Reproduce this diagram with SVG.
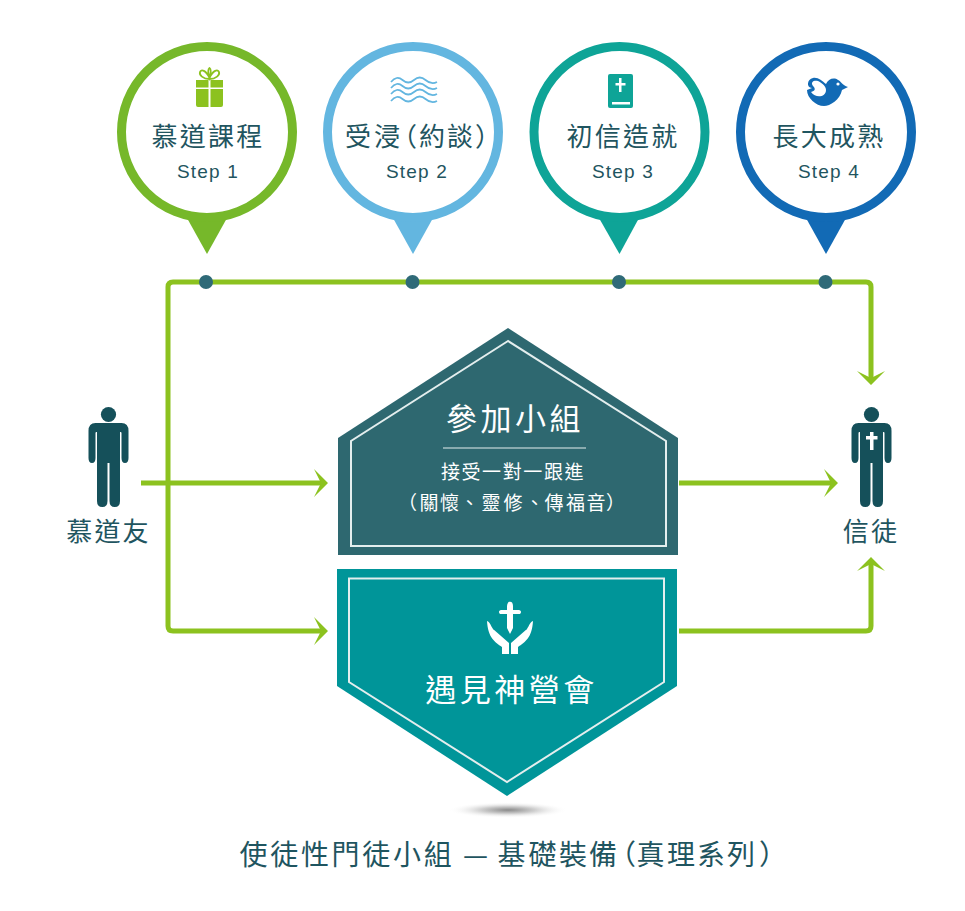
<svg xmlns="http://www.w3.org/2000/svg" width="965" height="911" viewBox="0 0 965 911">
<defs>
<style>
text{font-family:"Noto Sans CJK TC","Noto Sans CJK SC","Liberation Sans",sans-serif;text-anchor:middle}
.t{font-size:26px;letter-spacing:2.2px;fill:#1f5560}
.x{text-anchor:start;letter-spacing:0}
.s{font-family:"Liberation Sans",Arial,sans-serif;font-size:19px;letter-spacing:1.200px;fill:#1f5560}
.w{fill:#fff}
.h{font-size:31px;letter-spacing:3.500px}
.b{font-size:19px;letter-spacing:1.600px}
.c{fill:#fff;stroke-width:9}
.l{fill:none;stroke:#8cc21f;stroke-width:5;stroke-linejoin:round}
.d{fill:#2f6a78}
.in{fill:none;stroke:#e4eeee;stroke-width:2}
.p{fill:#15505a}
</style>
<radialGradient id="sh"><stop offset="0" stop-color="#8a8a8a"/><stop offset="0.45" stop-color="#cfcfcf"/><stop offset="1" stop-color="#fff" stop-opacity="0"/></radialGradient>
<marker id="a" markerUnits="userSpaceOnUse" markerWidth="30" markerHeight="32" refX="7" refY="15" orient="auto"><path d="M0 1L14 15L0 29L7 15Z" fill="#8cc21f"/></marker>
<g id="person"><circle cx="0" cy="-92.500" r="7.600"/><path d="M-13-84H13Q20-84 20-76V-49Q20-44 16.500-44Q13-44 13-49V-74Q13-75 12-75H11.500V-6Q11.500 0 6.250 0Q1-0 1-6V-44H-1V-6Q-1 0-6.250 0Q-11.500 0-11.500-6V-75H-12Q-13-75-13-74V-49Q-13-44-16.500-44Q-20-44-20-49V-76Q-20-84-13-84Z"/></g>
</defs>
<g id="connectors">
<path class="l" d="M168 450V287Q168 282 173 282H866Q871 282 871 287V378" marker-end="url(#a)"/>
<path class="l" d="M168 450V626Q168 631 173 631H321" marker-end="url(#a)"/>
<path class="l" d="M141 483H321" marker-end="url(#a)"/>
<path class="l" d="M679 483H831" marker-end="url(#a)"/>
<path class="l" d="M679 631H866Q871 631 871 626V564" marker-end="url(#a)"/>
</g>
<g id="step1">
<path d="M187 218H227L207 254Z" fill="#76b82a"/><circle class="c" cx="207" cy="132" r="85.500" stroke="#76b82a"/>
<path fill="#8cc21f" d="M196 89H208.500V107H198Q196 107 196 105ZM210.500 89H223V105Q223 107 221 107H210.500ZM196 80H208.500V87.500H196ZM210.500 80H223V87.500H210.500Z"/>
<path fill="none" stroke="#8cc21f" stroke-width="1.800" d="M209.500 79C203 79 199 75 200 72C201 69 206 70 209.500 78C213 70 218 69 219 72C220 75 216 79 209.500 79ZM209.500 78C208 73 208 69 209.500 68C211 69 211 73 209.500 78Z"/>
<text class="t" x="208" y="146">慕道課程</text><text class="s" x="208" y="178">Step 1</text>
</g>
<g id="step2">
<path d="M393 218H433L413 254Z" fill="#63b6e0"/><circle class="c" cx="413" cy="132" r="85.500" stroke="#63b6e0"/>
<path fill="none" stroke="#63b6e0" stroke-width="1.700" d="M391 82q5.750 -7 11.500 -2t11.500 0 11.500 0 11.500 2M391 88q5.750 -7 11.500 -2t11.500 0 11.500 0 11.500 2M391 94q5.750 -7 11.500 -2t11.500 0 11.500 0 11.500 2M391 101q5.750 -7 11.500 -2t11.500 0 11.500 0 11.500 2"/>
<text class="t x" x="345 374 391 419 447 475" y="146">受浸（約談）</text><text class="s" x="417" y="178">Step 2</text>
</g>
<g id="step3">
<path d="M599 218H639L619.500 254Z" fill="#0ea497"/><circle class="c" cx="619.500" cy="132" r="85.500" stroke="#0ea497"/>
<path fill="#0ea497" d="M610 74H631Q633 74 633 76V106Q633 108 631 108H610Q608 108 608 106V76Q608 74 610 74Z"/>
<path fill="#fff" d="M619 78H621.500V83H625.500V85.500H621.500V92H619V85.500H615.500V83H619ZM612 102H630V104.500H612Z"/>
<text class="t" x="623" y="146">初信造就</text><text class="s" x="623" y="178">Step 3</text>
</g>
<g id="step4">
<path d="M806 218H846L826 254Z" fill="#126ab5"/><circle class="c" cx="826" cy="132" r="85.500" stroke="#126ab5"/>
<path fill="#126ab5" d="M812 88C806 88 807 79 813 78C818 77 822 81 826 84C828 79 834 77 838 80C841 81 842 85 848 87L842 90C840 100 830 106 824 106C816 106 807 98 807 90Z"/>
<path fill="#fff" d="M811 92C815 91 816 89 813 86C810 82 814 80 818 81C822 83 826 86 826 90C826 97 816 99 811 92Z"/><circle cx="838" cy="84" r="1.600" fill="#fff"/>
<text class="t" x="829" y="146">長大成熟</text><text class="s" x="829" y="178">Step 4</text>
</g>
<g id="seeker">
<use href="#person" class="p" transform="translate(108.500 507)"/>
<text class="t" x="108.500" y="541">慕道友</text>
</g>
<g id="believer">
<use href="#person" class="p" transform="translate(871.500 507)"/>
<path fill="#fff" d="M870 432H873.500V436H877.500V439.500H873.500V450H870V439.500H866V436H870Z"/>
<text class="t" x="871" y="541">信徒</text>
</g>
<g id="dots">
<circle class="d" cx="206" cy="282" r="7"/><circle class="d" cx="412.500" cy="282" r="7"/><circle class="d" cx="619" cy="282" r="7"/><circle class="d" cx="825.500" cy="282" r="7"/>
</g>
<g id="small-group">
<path fill="#2e6870" d="M508 328L338 438V555H678V438Z"/>
<path class="in" d="M508 341L351 441V546H666V441Z"/>
<text class="w h" x="515" y="430">參加小組</text>
<path d="M443 448H586" stroke="#e4eeee" stroke-width="1.200"/>
<text class="w b" x="513" y="479">接受一對一跟進</text>
<text class="w b x" x="398 419.500 440 460 481.500 503.500 525 544.500 566 586.500 606" y="510">（關懷、靈修、傳福音）</text>
</g>
<g id="encounter">
<path fill="#009599" d="M337 569H677V686L507 796L337 686Z"/>
<path class="in" d="M349 578.500H664V682L507 782L349 682Z"/>
<path fill="#fff" d="M508.500 602C511 601 513 602 513 606V610H518C522 609 522 615 518 614H513V628L510 634L507 628V614H502C498 615 498 609 502 610H507V606Q507 604 508.500 602Z"/>
<path fill="#fff" d="M487 621C490 622 491 626 493 629L509 643V654H502V647C495 642 488 638 487 621ZM533 621C530 622 529 626 527 629L511 643V654H518V647C525 642 532 638 533 621Z"/>
<path fill="none" stroke="#009599" stroke-width="1" d="M493 629L497 627L507 638M527 629L523 627L513 638"/>
<text class="w h" x="511.500" y="701">遇見神營會</text>
</g>
<ellipse id="shadow" cx="508" cy="810" rx="60" ry="8" fill="url(#sh)"/>
<text id="title" class="x" x="239.500 270.200 300.900 331.600 362.300 393 423.700 463 497.500 528.500 559 589 608 636.500 667 697 727 759" y="865" font-size="28" fill="#1f5560">使徒性門徒小組—基礎裝備（真理系列）</text>
</svg>
